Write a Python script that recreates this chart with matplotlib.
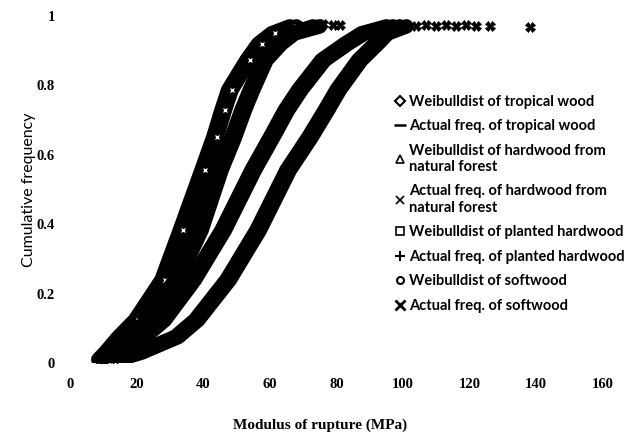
import matplotlib
matplotlib.use("Agg")
import matplotlib.pyplot as plt
from matplotlib.lines import Line2D

# cumulative frequency levels
cum_freq = [0.01, 0.03, 0.075, 0.124, 0.24, 0.383, 0.556, 0.65, 0.729, 0.787, 0.873, 0.92, 0.95, 0.97]

# Modulus of rupture (MPa) for each series at the levels above
weibull_softwood = [8.5, 10.5, 14.5, 19.5, 27.5, 33, 39.5, 43, 45.5, 47.5, 53, 56.5, 60.5, 66]
actual_softwood = [9.5, 11.5, 15.5, 20.5, 28.5, 34, 40.5, 44, 46.5, 48.5, 54, 57.5, 61.5, 68]
weibull_planted = [9.5, 12.5, 17.5, 23.5, 31.5, 38.5, 44.5, 48.5, 51.5, 54, 58, 62.5, 66.5, 73]
actual_planted = [10.5, 13.5, 18.5, 24.5, 32.5, 39.5, 45.5, 49.5, 52.5, 55, 59, 63.5, 67.5, 75]
weibull_natural = [10.5, 14.5, 21.5, 27.5, 36.5, 45.5, 54.5, 60, 64.5, 68.5, 75.5, 82.5, 87.5, 95]
actual_natural = [11.5, 15.5, 22.5, 28.5, 37.5, 46.5, 55.5, 61, 65.5, 69.5, 76.5, 83.5, 88.5, 97]
weibull_tropical = [13.5, 20.5, 31.5, 37.5, 47, 56, 65, 71.5, 76.5, 80, 86.5, 91.5, 94.5, 99]
actual_tropical = [14.5, 21.5, 32.5, 38.5, 48, 57, 66, 72.5, 77.5, 81, 87.5, 92.5, 95.5, 101]

# upper tail of the actual frequencies
tail_left_x = [70, 73, 76, 79, 81]
tail_left_y = [0.972, 0.975, 0.976, 0.975, 0.973]
tail_right_x = [104, 107, 110, 113, 116, 119, 122, 126, 138]
tail_right_y = [0.972, 0.973, 0.972, 0.974, 0.972, 0.973, 0.972, 0.972, 0.968]

fig = plt.figure(figsize=(6.28, 4.42), dpi=100)
ax = fig.add_axes([0.1115, 0.1787, 0.8485, 0.7851])

series = [
    (weibull_softwood, 'o'), (actual_softwood, 'X'),
    (weibull_planted, 's'), (actual_planted, '+'),
    (weibull_natural, '^'), (actual_natural, 'x'),
    (weibull_tropical, 'D'), (actual_tropical, '_'),
]
for xs, m in series:
    ax.plot(xs, cum_freq, color='black', lw=10.5, marker=m, ms=5,
            mfc='white', mec='black', mew=0.8,
            solid_capstyle='round', solid_joinstyle='round')

ax.plot(tail_left_x, tail_left_y, ls='none', marker='X', ms=7,
        mfc='black', mec='black', mew=0.5)
ax.plot(tail_right_x, tail_right_y, ls='none', marker='X', ms=7,
        mfc='black', mec='black', mew=0.5)

ax.set_xlim(0, 160)
ax.set_ylim(0, 1)
ax.set_xticks([0, 20, 40, 60, 80, 100, 120, 140, 160])
ax.set_yticks([0, 0.2, 0.4, 0.6, 0.8, 1])
ax.set_yticklabels(['0', '0.2', '0.4', '0.6', '0.8', '1'])
for s in ax.spines.values():
    s.set_visible(False)
ax.tick_params(length=0, labelsize=10.5)
ax.tick_params(axis='x', pad=11)
ax.tick_params(axis='y', pad=11)
for lab in ax.get_xticklabels() + ax.get_yticklabels():
    lab.set_fontfamily('Liberation Serif')
    lab.set_fontweight('bold')

ax.set_xlabel('Modulus of rupture (MPa)', fontfamily='Liberation Serif',
              fontweight='bold', fontsize=11)
ax.xaxis.set_label_coords(0.47, -0.16)
ax.set_ylabel('Cumulative frequency', fontfamily='Lato', fontsize=11.5,
              labelpad=0)

handles = [
    Line2D([], [], ls='none', marker='D', ms=5, mfc='none', mec='black', mew=1.5),
    Line2D([], [], ls='none', marker='_', ms=8, mec='black', mew=1.8),
    Line2D([], [], ls='none', marker='^', ms=6, mfc='none', mec='black', mew=1.2),
    Line2D([], [], ls='none', marker='x', ms=6, mec='black', mew=1.2),
    Line2D([], [], ls='none', marker='s', ms=6, mfc='none', mec='black', mew=1.2),
    Line2D([], [], ls='none', marker='+', ms=7, mec='black', mew=1.5),
    Line2D([], [], ls='none', marker='o', ms=5, mfc='none', mec='black', mew=1.5),
    Line2D([], [], ls='none', marker='x', ms=7, mec='black', mew=2),
]
labels = [
    'Weibulldist of tropical wood',
    'Actual freq. of tropical wood',
    'Weibulldist of hardwood from\nnatural forest',
    'Actual freq. of hardwood from\nnatural forest',
    'Weibulldist of planted hardwood',
    'Actual freq. of planted hardwood',
    'Weibulldist of softwood',
    'Actual freq. of softwood',
]
ax.legend(handles, labels, loc='upper left', bbox_to_anchor=(0.6, 0.79),
          frameon=False, handlelength=0.6, handletextpad=0.3,
          labelspacing=0.72, borderaxespad=0,
          prop={'family': 'Lato', 'weight': 'bold', 'size': 10.5})

fig.savefig('out.png', dpi=100)
